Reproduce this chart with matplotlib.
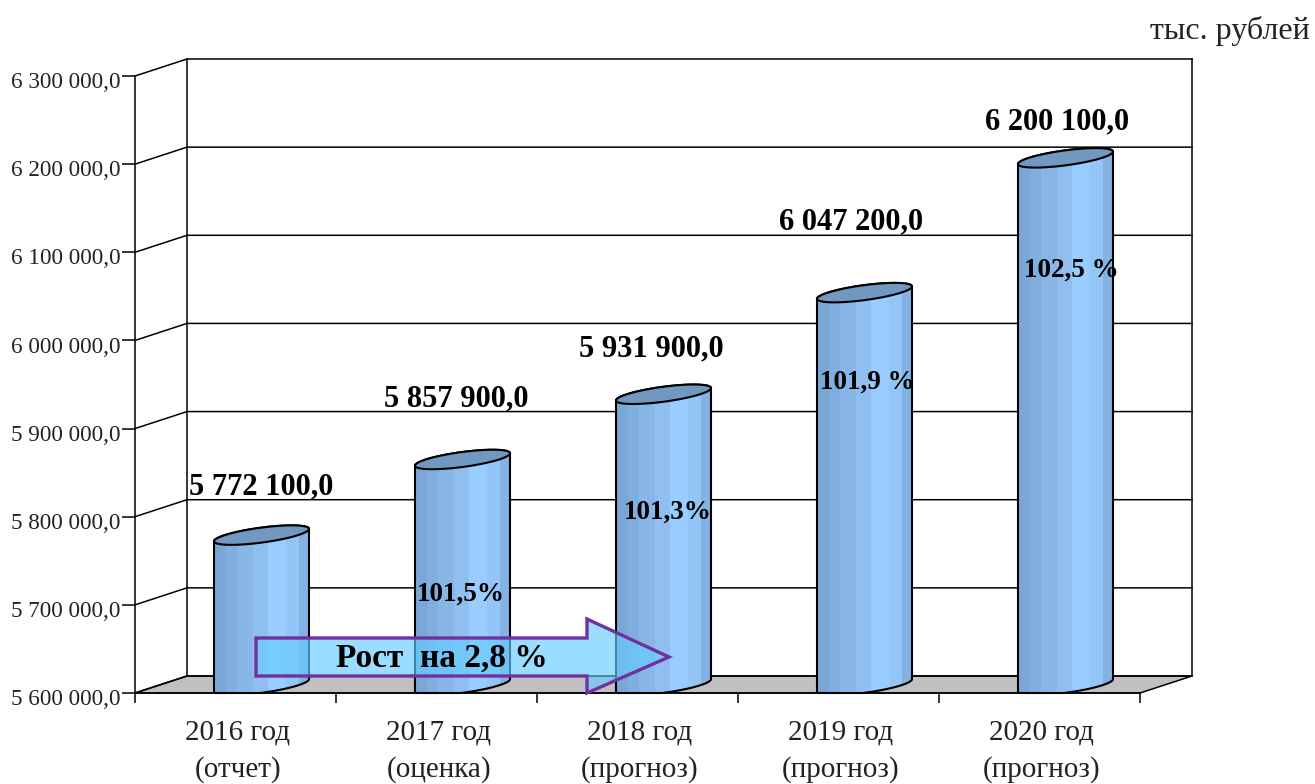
import numpy as np
import matplotlib
matplotlib.use("Agg")
import matplotlib.pyplot as plt
from matplotlib.patches import Polygon
from matplotlib.transforms import ScaledTranslation

plt.rcParams["font.family"] = ["Liberation Serif", "DejaVu Serif"]

W, H = 1315, 784
BLACK = "#000000"

categories = ["2016 год\n(отчет)", "2017 год\n(оценка)", "2018 год\n(прогноз)",
              "2019 год\n(прогноз)", "2020 год\n(прогноз)"]
values = [5772100, 5857900, 5931900, 6047200, 6200100]
value_labels = ["5 772 100,0", "5 857 900,0", "5 931 900,0", "6 047 200,0", "6 200 100,0"]
growth_labels = ["", "101,5%", "101,3%", "101,9 %", "102,5 %"]
y_ticks = [5600000, 5700000, 5800000, 5900000, 6000000, 6100000, 6200000, 6300000]
y_tick_labels = ["5 600 000,0", "5 700 000,0", "5 800 000,0", "5 900 000,0",
                 "6 000 000,0", "6 100 000,0", "6 200 000,0", "6 300 000,0"]
stripe_colors = ["#7ba7d7", "#80aedf", "#88b6e7", "#90bfef", "#99ccff", "#93c5f7", "#84b2e3"]
stripe_widths = [0.13, 0.11, 0.17, 0.16, 0.19, 0.13, 0.11]

# label anchors in pixels, top-left origin
value_label_xy = [(261, 487), (456, 399), (651, 349), (851, 222), (1057, 122)]
growth_label_xy = [None, (461, 594), (668, 512), (867, 382), (1071, 270)]

Y0, Y1 = 5600000, 6300000
PX_L, PX_R, PX_B, PX_T = 135, 1140, 693, 76
DX = 52 / (PX_R - PX_L) * 5
DY = 17 / (PX_B - PX_T) * (Y1 - Y0)
PX_X = 5 / (PX_R - PX_L)
PX_Y = (Y1 - Y0) / (PX_B - PX_T)

fig = plt.figure(figsize=(W / 100, H / 100), dpi=100, facecolor="white")
ax = fig.add_axes([PX_L / W, 1 - PX_B / H, (PX_R - PX_L) / W, (PX_B - PX_T) / H])
ax.set_xlim(0, 5)
ax.set_ylim(Y0, Y1)
ax.patch.set_alpha(0)

# floor and walls
ax.add_patch(Polygon([(0, Y0), (5, Y0), (5 + DX, Y0 + DY), (DX, Y0 + DY)],
                     closed=True, fc="#c0c0c0", ec=BLACK, lw=1.1, clip_on=False, zorder=1))
for v in y_ticks:
    ax.plot([0, DX, 5 + DX], [v, v + DY, v + DY], color=BLACK, lw=1.1, clip_on=False, zorder=1.5,
            solid_joinstyle="miter")
ax.plot([DX, DX], [Y0 + DY, Y1 + DY], color=BLACK, lw=1.1, clip_on=False, zorder=1.5)
ax.plot([5 + DX, 5 + DX], [Y0 + DY, Y1 + DY], color=BLACK, lw=1.1, clip_on=False, zorder=1.5)

# cylinders
half_w = 47.5 * PX_X
shear = 6.2 * PX_Y
bulge = 7.5 * PX_Y
t = np.linspace(0, 2 * np.pi, 121)


def rim(cx, level, ts):
    return cx + half_w * np.cos(ts), level + shear + shear * np.cos(ts) + bulge * np.sin(ts)


for i, val in enumerate(values):
    cx = i + 0.5 + DX / 2
    top_x, top_y = rim(cx, val, t)
    arc_up = np.linspace(np.pi, 0, 60)
    arc_low = np.linspace(0, -np.pi, 60)
    ux, uy = rim(cx, val, arc_up)
    lx, ly = rim(cx, Y0 + 1.5 * PX_Y, arc_low)
    ly = np.maximum(ly, Y0)
    body = np.column_stack([np.r_[ux, lx], np.r_[uy, ly]])
    outline = Polygon(body, closed=True, fc="none", ec=BLACK, lw=1.5, clip_on=False, zorder=4)
    clip = Polygon(body, closed=True, transform=ax.transData)
    left = cx - half_w
    for color, frac in zip(stripe_colors, stripe_widths):
        w = frac * 2 * half_w
        b = ax.bar(left, val + 30000 - Y0, width=w, bottom=Y0, align="edge", color=color, lw=0, zorder=3)
        b[0].set_clip_path(clip)
        left += w
    ax.add_patch(outline)
    ax.add_patch(Polygon(np.column_stack([top_x, top_y]), closed=True, fc="#7098c0", ec=BLACK,
                         lw=1.5, clip_on=False, zorder=5))

# axes
for side in ["top", "right"]:
    ax.spines[side].set_visible(False)
for side in ["left", "bottom"]:
    ax.spines[side].set_linewidth(1.1)
    ax.spines[side].set_zorder(6)
ax.set_yticks(y_ticks)
ax.set_yticklabels(y_tick_labels, fontsize=16.7, color="#222222")
ax.set_xticks(range(6))
ax.set_xticklabels([])
ax.set_xticks([i + 0.5 for i in range(5)], minor=True)
ax.set_xticklabels(categories, minor=True, fontsize=21, color="#222222", linespacing=1.5)
ax.tick_params(axis="y", length=9.5, width=1.1, pad=1)
ax.tick_params(axis="x", which="major", length=7.5, width=1.1)
ax.tick_params(axis="x", which="minor", length=0, pad=19)
shift = ScaledTranslation(0, -3 / 72, fig.dpi_scale_trans)
for lab in ax.get_yticklabels():
    lab.set_transform(lab.get_transform() + shift)
shift_x = ScaledTranslation(1.5 / 72, 0, fig.dpi_scale_trans)
for lab in ax.get_xticklabels(minor=True):
    lab.set_transform(lab.get_transform() + shift_x)

# overlay in pixel coordinates for the free text and the arrow
ov = fig.add_axes([0, 0, 1, 1])
ov.set_xlim(0, W)
ov.set_ylim(H, 0)
ov.axis("off")
ov.patch.set_alpha(0)

for (x, y), s in zip(value_label_xy, value_labels):
    ov.text(x, y, s, ha="center", va="center", fontsize=22, fontweight="bold", color=BLACK)
for xy, s in zip(growth_label_xy, growth_labels):
    if xy:
        ov.text(xy[0], xy[1], s, ha="center", va="center", fontsize=19.5, fontweight="bold", color=BLACK, zorder=8)

ov.text(1310, 31, "тыс. рублей", ha="right", va="center", fontsize=23, color="#222222")

arrow = [(256, 638), (587, 638), (587, 619), (669, 657), (587, 693), (587, 676), (256, 676)]
ov.add_patch(Polygon(arrow, closed=True, fc=(0.4, 0.8, 1.0, 0.65), ec="#7030a0", lw=2.4, zorder=7))
ov.text(442, 658, "Рост  на 2,8 %", ha="center", va="center", fontsize=24, fontweight="bold",
        color=BLACK, zorder=8)

fig.savefig("out.png", dpi=100)
